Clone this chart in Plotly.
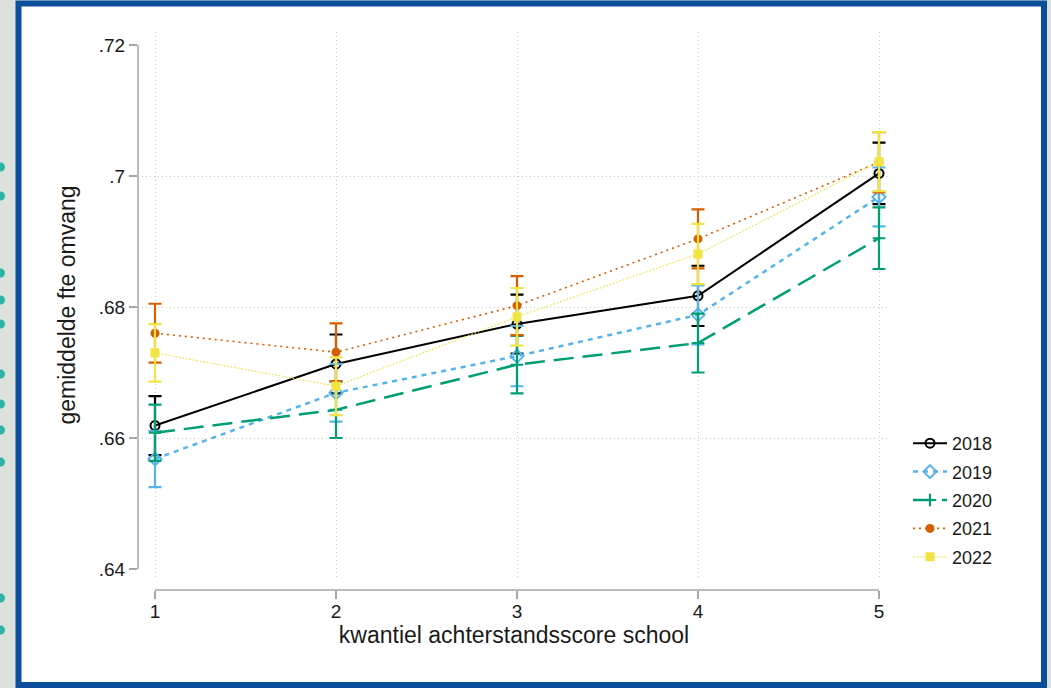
import plotly.graph_objects as go

# ---------------- data ----------------
quantiles = [1, 2, 3, 4, 5]
years = ["2018", "2019", "2020", "2021", "2022"]

mean_2018 = [0.6619, 0.6713, 0.6774, 0.6817, 0.7004]
ci_2018 = [0.0045, 0.0045, 0.0045, 0.0046, 0.0047]
mean_2019 = [0.6568, 0.6669, 0.6725, 0.6788, 0.6968]
ci_2019 = [0.0043, 0.0044, 0.0046, 0.0045, 0.0045]
mean_2020 = [0.6608, 0.6643, 0.6712, 0.6745, 0.6905]
ci_2020 = [0.0043, 0.0043, 0.0044, 0.0045, 0.0047]
mean_2021 = [0.6760, 0.6731, 0.6802, 0.6904, 0.7021]
ci_2021 = [0.0045, 0.0044, 0.0045, 0.0045, 0.0046]
mean_2022 = [0.6730, 0.6679, 0.6785, 0.6881, 0.7022]
ci_2022 = [0.0044, 0.0044, 0.0044, 0.0046, 0.0045]

y_tickvals = [0.64, 0.66, 0.68, 0.70, 0.72]
y_ticktext = [".64", ".66", ".68", ".7", ".72"]
x_tickvals = [1, 2, 3, 4, 5]
x_ticktext = ["1", "2", "3", "4", "5"]

x_title = "kwantiel achterstandsscore school"
y_title = "gemiddelde fte omvang"

# ---------------- styles ----------------
FONT = "Liberation Sans, Arial, Helvetica, sans-serif"
TXT = "#1a1a1a"
AX = "#a6a6a6"
GRID = "#c8c8c8"

W, H = 1051, 688
ML, MR, MT, MB = 138, 161, 32, 98
PW, PH = W - ML - MR, H - MT - MB


def px2x(px):
    return (px - ML) / PW


def py2y(py):
    return (H - MB - py) / PH


series = [
    (years[0], mean_2018, ci_2018, "#000000",
     dict(width=2, dash="solid"),
     dict(symbol="circle-open", size=9, line=dict(width=2, color="#000000"))),
    (years[1], mean_2019, ci_2019, "#56B4E9",
     dict(width=2.5, dash="5px,5px"),
     dict(symbol="diamond-open", size=10, line=dict(width=2, color="#56B4E9"))),
    (years[2], mean_2020, ci_2020, "#009E73",
     dict(width=2.5, dash="20px,9px"),
     dict(symbol="cross-thin", size=9, line=dict(width=2, color="#009E73"))),
    (years[3], mean_2021, ci_2021, "#D55E00",
     dict(width=1.6, dash="2px,4px"),
     dict(symbol="circle", size=9)),
    (years[4], mean_2022, ci_2022, "#F0E442",
     dict(width=1.3, dash="1.5px,2px"),
     dict(symbol="square", size=9)),
]

fig = go.Figure()
for name, m, ci, col, ln, mk in series:
    ln = dict(ln, color=col)
    mk = dict(mk, color=col)
    fig.add_trace(go.Scatter(
        x=quantiles, y=m, name=name, mode="lines+markers",
        legendgroup=name,
        line=ln, marker=mk,
        error_y=dict(type="data", array=ci, visible=True, color=col,
                     thickness=2.2, width=6.5),
    ))

# invisible trace on overlay axis to carry inner gridlines
fig.add_trace(go.Scatter(x=[1], y=[0.68], yaxis="y2", showlegend=False,
                         mode="markers", marker=dict(opacity=0),
                         hoverinfo="skip"))

yrange = [0.64 - 9 / 6550, 0.72 + 13 / 6550]
xrange = [1 - 17 / 181, 5 + 11 / 181]
ydom0 = 12 / PH

shapes = []
# slide frame
shapes.append(dict(type="rect", xref="paper", yref="paper", layer="below",
                   x0=px2x(18.5), x1=px2x(1044), y0=py2y(685), y1=py2y(3.5),
                   line=dict(color="#0b4e9c", width=6), fillcolor="white"))
# teal bullets at the slide edge
for yy in [167, 196, 273, 300, 324, 374, 404, 430, 462, 598, 630]:
    shapes.append(dict(type="circle", xref="paper", yref="paper", layer="below",
                       x0=px2x(-4), x1=px2x(5), y0=py2y(yy + 4.5), y1=py2y(yy - 4.5),
                       line=dict(width=0), fillcolor="#2bb5a6"))
# detached axis lines (Stata style)
shapes.append(dict(type="line", xref="paper", yref="y", x0=0, x1=0,
                   y0=0.64, y1=0.72, line=dict(color=AX, width=1.5)))
shapes.append(dict(type="line", xref="x", yref="paper", x0=1, x1=5,
                   y0=0, y1=0, line=dict(color=AX, width=1.5)))

fig.update_layout(
    width=W, height=H,
    margin=dict(l=ML, r=MR, t=MT, b=MB, pad=0),
    paper_bgcolor="#dde1dc",
    plot_bgcolor="rgba(0,0,0,0)",
    font=dict(family=FONT, color=TXT, size=18),
    shapes=shapes,
    showlegend=True,
    legend=dict(x=px2x(908), y=py2y(425), xanchor="left", yanchor="top",
                bgcolor="rgba(0,0,0,0)", font=dict(size=18, color=TXT),
                traceorder="grouped", tracegroupgap=2, itemwidth=34),
    xaxis=dict(range=xrange, anchor="free", position=0,
               tickvals=x_tickvals, ticktext=x_ticktext,
               ticks="outside", ticklen=8, tickwidth=1.5, tickcolor=AX,
               ticklabelstandoff=-4,
               showline=False, zeroline=False,
               showgrid=True, gridcolor=GRID, griddash="1px,3px", gridwidth=1,
               tickfont=dict(size=19, color=TXT),
               title=dict(text=x_title, font=dict(size=23, color=TXT), standoff=6)),
    yaxis=dict(range=yrange, domain=[ydom0, 1],
               tickvals=y_tickvals, ticktext=y_ticktext,
               ticks="outside", ticklen=8, tickwidth=1.5, tickcolor=AX,
               showline=False, zeroline=False, showgrid=False,
               tickfont=dict(size=19, color=TXT),
               title=dict(text=y_title, font=dict(size=23, color=TXT), standoff=16)),
    yaxis2=dict(range=yrange, domain=[ydom0, 1], overlaying="y", anchor="x",
                tickvals=[0.66, 0.68, 0.70], showticklabels=False, ticks="",
                showgrid=True, gridcolor=GRID, griddash="1px,3px", gridwidth=1,
                zeroline=False, showline=False),
)

fig.write_html("out.html",
               config={"displayModeBar": False},
               post_script="document.body.style.margin='0';"
                           "document.body.style.overflow='hidden';")
